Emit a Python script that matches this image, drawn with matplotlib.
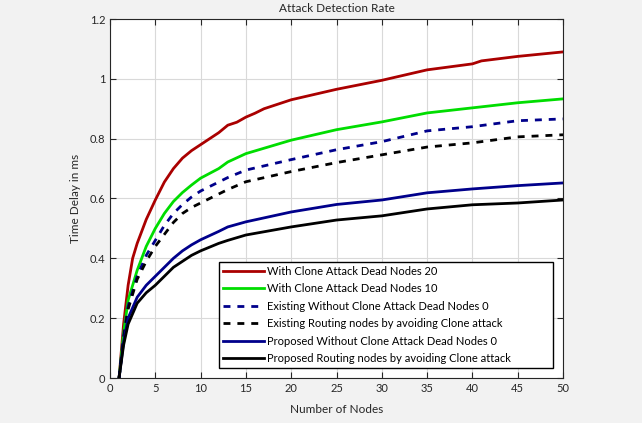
import matplotlib
matplotlib.use("Agg")
import matplotlib.pyplot as plt

plt.rcParams['font.family'] = ['Lato', 'DejaVu Sans']

x_red = [1, 1.5, 2, 2.5, 3, 4, 5, 6, 7, 8, 9, 10, 11, 12, 13, 14, 15, 16, 17, 20, 25, 30, 35, 40, 41, 45, 50]
y_red = [0, 0.18, 0.31, 0.40, 0.45, 0.53, 0.595, 0.655, 0.70, 0.735, 0.76, 0.78, 0.80, 0.82, 0.845, 0.855, 0.872, 0.885, 0.90, 0.93, 0.965, 0.995, 1.03, 1.05, 1.06, 1.075, 1.09]

x_common = [1, 1.5, 2, 3, 4, 5, 6, 7, 8, 9, 10, 12, 13, 15, 20, 25, 30, 35, 40, 45, 50]
y_green = [0, 0.15, 0.26, 0.36, 0.44, 0.50, 0.55, 0.59, 0.62, 0.645, 0.668, 0.70, 0.722, 0.75, 0.795, 0.83, 0.856, 0.886, 0.903, 0.92, 0.933]
y_blue_dash = [0, 0.14, 0.24, 0.34, 0.41, 0.46, 0.51, 0.55, 0.58, 0.605, 0.625, 0.655, 0.67, 0.695, 0.73, 0.763, 0.79, 0.826, 0.84, 0.86, 0.866]
y_black_dash = [0, 0.13, 0.23, 0.33, 0.39, 0.44, 0.48, 0.52, 0.55, 0.57, 0.585, 0.615, 0.63, 0.656, 0.69, 0.72, 0.746, 0.772, 0.786, 0.806, 0.813]
y_blue = [0, 0.12, 0.20, 0.27, 0.31, 0.34, 0.37, 0.40, 0.425, 0.445, 0.462, 0.49, 0.505, 0.522, 0.555, 0.58, 0.595, 0.619, 0.632, 0.643, 0.652]
y_black = [0, 0.11, 0.18, 0.25, 0.285, 0.31, 0.34, 0.37, 0.39, 0.41, 0.425, 0.45, 0.46, 0.478, 0.505, 0.528, 0.542, 0.565, 0.579, 0.585, 0.595]

labels = [
    "With Clone Attack Dead Nodes 20",
    "With Clone Attack Dead Nodes 10",
    "Existing Without Clone Attack Dead Nodes 0",
    "Existing Routing nodes by avoiding Clone attack",
    "Proposed Without Clone Attack Dead Nodes 0",
    "Proposed Routing nodes by avoiding Clone attack",
]

fig = plt.figure(figsize=(6.42, 4.23), dpi=100, facecolor='#f2f2f2')
ax = fig.add_axes([110/642, (423-378)/423, (563-110)/642, (378-19)/423])
ax.set_facecolor('white')

lw = 2.0
dash = (0, (2.5, 2.5))
ax.plot(x_red, y_red, color='#aa0000', lw=lw, label=labels[0])
ax.plot(x_common, y_green, color='#00dd00', lw=lw, label=labels[1])
ax.plot(x_common, y_blue_dash, color='#00008b', lw=lw, ls=dash, label=labels[2])
ax.plot(x_common, y_black_dash, color='black', lw=lw, ls=dash, label=labels[3])
ax.plot(x_common, y_blue, color='#00008b', lw=lw, label=labels[4])
ax.plot(x_common, y_black, color='black', lw=lw, label=labels[5])

ax.set_xlim(0, 50)
ax.set_ylim(0, 1.2)
ax.set_xticks(range(0, 51, 5))
ax.set_yticks([0, 0.2, 0.4, 0.6, 0.8, 1.0, 1.2])
ax.set_yticklabels(['0', '0.2', '0.4', '0.6', '0.8', '1', '1.2'])
ax.grid(True, color='#d9d9d9', lw=0.8)
ax.set_axisbelow(True)
ax.tick_params(direction='in', top=True, right=True, labelsize=8, colors='#262626', length=4)
for s in ax.spines.values():
    s.set_color('#262626')
    s.set_linewidth(0.8)

ax.set_title("Attack Detection Rate", fontsize=8.5, color='#262626', pad=5)
ax.set_xlabel("Number of Nodes", fontsize=8.5, color='#262626', labelpad=7)
ax.set_ylabel("Time Delay in ms", fontsize=8.5, color='#262626', labelpad=6)

leg = ax.legend(loc='lower left', bbox_to_anchor=(0.241, 0.028, 0.737, 0.298), mode='expand',
                fontsize=8, handlelength=3.7, handletextpad=0.25, borderpad=0.35,
                labelspacing=0.58, fancybox=False, framealpha=1, edgecolor='black',
                borderaxespad=0)
leg.get_frame().set_linewidth(1.0)

fig.savefig("out.png", dpi=100, facecolor=fig.get_facecolor())
